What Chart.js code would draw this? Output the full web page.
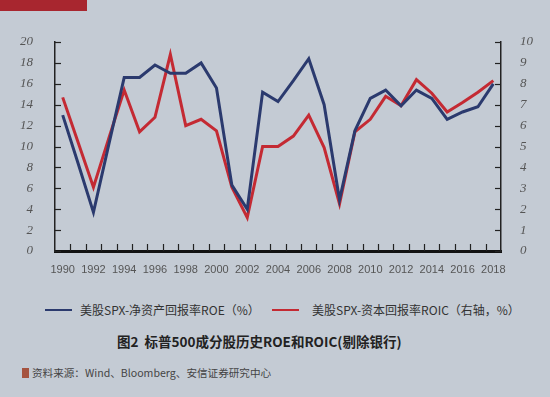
<!DOCTYPE html>
<html>
<head>
<meta charset="utf-8">
<script src="https://cdn.jsdelivr.net/npm/chart.js@4"></script>
<style>
  body { margin: 0; width: 550px; height: 397px; background: #c4cbd4; position: relative; overflow: hidden;
         font-family: "Noto Sans CJK SC", "Noto Sans", sans-serif; }
  #topbar { position: absolute; left: 0; top: 0; width: 87px; height: 11px; background: #a8262f; }
  #wrap { position: absolute; left: 0; top: 0; width: 550px; height: 290px; }
  .leg-line { position: absolute; top: 309px; width: 27px; height: 2px; }
  .leg-text { position: absolute; top: 302px; font-size: 12px; line-height: 16px; color: #333; white-space: nowrap; }
  #title { position: absolute; left: 117px; top: 332px; font-size: 13.5px; line-height: 18px; font-weight: bold; color: #222; white-space: nowrap; }
  #srcbox { position: absolute; left: 22px; top: 368px; width: 7px; height: 10px; background: #a5533f; }
  #src { position: absolute; left: 32px; top: 365px; font-size: 10.6px; line-height: 16px; color: #444; white-space: nowrap; }
</style>
</head>
<body>
<div id="topbar"></div>
<div id="wrap"><canvas id="chart"></canvas></div>

<div class="leg-line" id="leg1" style="left:45px"></div>
<div class="leg-text" style="left:80px">美股SPX-净资产回报率ROE（%）</div>
<div class="leg-line" id="leg2" style="left:272px"></div>
<div class="leg-text" style="left:312px">美股SPX-资本回报率ROIC（右轴，%）</div>

<div id="title">图2&nbsp;&nbsp;标普500成分股历史ROE和ROIC(剔除银行)</div>
<div id="srcbox"></div>
<div id="src">资料来源：Wind、Bloomberg、安信证券研究中心</div>

<script>
const years = ["1990","1991","1992","1993","1994","1995","1996","1997","1998","1999",
               "2000","2001","2002","2003","2004","2005","2006","2007","2008","2009",
               "2010","2011","2012","2013","2014","2015","2016","2017","2018"];

// 左轴 ROE (%)
const roe = [13.0, 8.4, 3.7, 10.2, 16.6, 16.6, 17.8, 17.0, 17.0, 18.0,
             15.6, 6.3, 4.0, 15.2, 14.3, 16.3, 18.4, 14.0, 4.9, 11.5,
             14.6, 15.4, 13.9, 15.4, 14.6, 12.6, 13.3, 13.8, 16.0];

// 右轴 ROIC (%)
const roic = [7.35, 5.2, 3.05, 5.4, 7.7, 5.7, 6.4, 9.4, 6.0, 6.3,
              5.75, 3.05, 1.6, 5.0, 5.0, 5.5, 6.5, 4.95, 2.25, 5.7,
              6.3, 7.4, 6.95, 8.2, 7.55, 6.65, 7.1, 7.6, 8.15];

const blue = "#2b3a6e";
const red = "#c42a33";
document.getElementById("leg1").style.background = blue;
document.getElementById("leg2").style.background = red;

// ticks pointing into the plot
const innerTicks = {
  id: "innerTicks",
  afterDatasetsDraw(chart) {
    const { ctx, chartArea, scales } = chart;
    ctx.save();
    ctx.strokeStyle = "#222";
    ctx.lineWidth = 1.2;
    scales.y.ticks.forEach((t, i) => {
      const py = Math.round(scales.y.getPixelForTick(i)) + 0.5;
      ctx.beginPath(); ctx.moveTo(chartArea.left, py); ctx.lineTo(chartArea.left + 6, py); ctx.stroke();
    });
    scales.y1.ticks.forEach((t, i) => {
      const py = Math.round(scales.y1.getPixelForTick(i)) + 0.5;
      ctx.beginPath(); ctx.moveTo(chartArea.right, py); ctx.lineTo(chartArea.right - 6, py); ctx.stroke();
    });
    for (let i = 1; i < years.length; i++) {
      const px = Math.round(scales.x.getPixelForValue(i - 0.5)) + 0.5;
      ctx.beginPath(); ctx.moveTo(px, chartArea.bottom); ctx.lineTo(px, chartArea.bottom - 7); ctx.stroke();
    }
    ctx.restore();
  }
};

new Chart(document.getElementById("chart"), {
  type: "line",
  data: {
    labels: years,
    datasets: [
      { label: "美股SPX-净资产回报率ROE（%）", data: roe, yAxisID: "y",
        borderColor: blue, borderWidth: 3, pointRadius: 0, tension: 0 },
      { label: "美股SPX-资本回报率ROIC（右轴，%）", data: roic, yAxisID: "y1",
        borderColor: red, borderWidth: 3, pointRadius: 0, tension: 0 }
    ]
  },
  options: {
    responsive: true,
    maintainAspectRatio: false,
    animation: false,
    layout: { padding: { top: 42, left: 0, right: 0, bottom: 0 } },
    plugins: { legend: { display: false }, tooltip: { enabled: false } },
    scales: {
      x: {
        offset: true,
        grid: { display: false },
        border: { display: true, color: "#111", width: 3 },
        ticks: {
          autoSkip: false, maxRotation: 0, padding: 4, color: "#555",
          font: { family: "Liberation Sans", size: 11 },
          callback: (v, i) => (i % 2 === 0 ? years[i] : "")
        },
        afterFit: s => { s.height = 39; }
      },
      y: {
        position: "left", min: 0, max: 20,
        grid: { display: false },
        border: { display: true, color: "#222", width: 1.5 },
        ticks: { stepSize: 2, padding: 14, color: "#555",
                 font: { family: "Liberation Serif", style: "italic", size: 13 } },
        afterFit: s => { s.width = 55; }
      },
      y1: {
        position: "right", min: 0, max: 10,
        grid: { display: false },
        border: { display: true, color: "#222", width: 1.5 },
        ticks: { stepSize: 1, padding: 11, color: "#555",
                 font: { family: "Liberation Serif", style: "italic", size: 13 } },
        afterFit: s => { s.width = 49; }
      }
    }
  },
  plugins: [innerTicks]
});
</script>
</body>
</html>
